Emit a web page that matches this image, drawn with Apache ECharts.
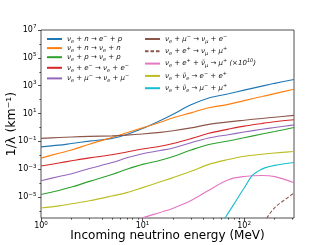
<!DOCTYPE html>
<html><head><meta charset="utf-8">
<script src="https://cdn.jsdelivr.net/npm/echarts@6/dist/echarts.min.js"></script>
<style>html,body{margin:0;padding:0;background:#fff}#c{width:327px;height:245px}</style>
</head><body><div id="c"></div>
<script>
// Energies (MeV) at which the curves were read
const energy = [1, 1.5, 2, 3, 5, 7, 10, 15, 20, 30, 45, 70, 100, 150, 200, 310];
// Values, as powers of ten (log10 of 1/lambda in km^-1)
const nuN_eP      = [-1.39,-1.27,-1.15,-0.98,-0.78,-0.50,-0.08,0.50,0.95,1.63,2.12,2.42,2.68,2.97,3.17,3.45];
const nuN_nuN     = [-2.20,-1.85,-1.62,-1.20,-0.72,-0.38,-0.03,0.38,0.70,1.05,1.42,1.66,1.93,2.22,2.43,2.75];
const nuP_nuP     = [-4.81,-4.52,-4.28,-3.87,-3.38,-3.00,-2.65,-2.35,-2.08,-1.62,-1.22,-0.97,-0.74,-0.47,-0.29,0.00];
const nuE_nuE     = [-2.77,-2.55,-2.39,-2.18,-1.96,-1.76,-1.55,-1.35,-1.15,-0.80,-0.42,-0.12,0.10,0.29,0.41,0.55];
const nuMu_nuMu   = [-3.82,-3.52,-3.32,-2.95,-2.52,-2.18,-1.88,-1.65,-1.47,-1.09,-0.75,-0.52,-0.33,-0.13,0.00,0.19];
const nuMu_numuE  = [-0.78,-0.72,-0.68,-0.64,-0.60,-0.55,-0.47,-0.35,-0.24,-0.03,0.22,0.40,0.52,0.65,0.74,0.87];
const nuNubar_ee  = [-5.78,-5.63,-5.48,-5.26,-4.92,-4.68,-4.32,-3.90,-3.60,-3.15,-2.65,-2.30,-2.07,-1.92,-1.83,-1.72];

const energyPink = [8, 10, 15, 20, 30, 45, 70, 100, 150, 200, 310];
const nuEpNubar   = [-6.9,-6.5,-6.1,-5.8,-5.25,-4.5,-3.75,-3.52,-3.45,-3.53,-3.97];

const energyCyan = [60, 65, 80, 90, 100, 120, 140, 160, 200, 310];
const nuNubar_mumu = [-7.0,-6.5,-5.47,-4.87,-4.35,-3.45,-3.10,-2.90,-2.72,-2.51];

const energyDash = [160, 168, 185, 210, 240, 265, 310];
const nuEp_numuMu = [-6.9,-6.5,-6.05,-5.62,-5.30,-5.07,-4.70];

// Tick values
const xMajorTicks = [1, 10, 100];
const xMinorTicks = [2,3,4,5,6,7,8,9,20,30,40,50,60,70,80,90,200,300];
const yMajorTicks = [1e-5, 1e-3, 1e-1, 1e1, 1e3, 1e5, 1e7];
const yMinorTicks = [1e-6, 1e-4, 1e-2, 1, 1e2, 1e4, 1e6];

// Legend labels (mini markup: _ subscript, ^ superscript)
const names = [
  'ν_e + n → e^− + p',
  'ν_e + n → ν_e + n',
  'ν_e + p → ν_e + p',
  'ν_e + e^− → ν_e + e^−',
  'ν_e + μ^− → ν_e + μ^−',
  'ν_e + μ^− → ν_μ + e^−',
  'ν_e + e^+ → ν_μ + μ^+',
  'ν_e + e^+ + ν\u0304_μ → μ^+ (×10^{10})',
  'ν_e + ν\u0304_e → e^− + e^+',
  'ν_e + ν\u0304_e → μ^− + μ^+'
];
const colors = ['#1f77b4','#ff7f0e','#2ca02c','#d62728','#9467bd','#8c564b','#8c564b','#e377c2','#bcbd22','#17becf'];

function toRich(str){
  let out = '', buf = '';
  const flush = () => { if (buf) { out += '{m|' + buf + '}'; buf = ''; } };
  for (let i = 0; i < str.length; i++) {
    const c = str[i];
    if (c === '_' || c === '^') {
      flush();
      let t;
      if (str[i+1] === '{') { const j = str.indexOf('}', i+2); t = str.slice(i+2, j); i = j; }
      else { t = str[i+1]; i++; }
      out += '{' + (c === '_' ? 's' : 'p') + '|' + t + '}';
    } else buf += c;
  }
  flush();
  return out;
}

const FF = 'DejaVu Sans';
const legendRich = {
  m: {fontSize: 7, fontStyle: 'italic', fontFamily: FF, color: '#111', lineHeight: 10, verticalAlign: 'middle'},
  s: {fontSize: 5, fontStyle: 'italic', fontFamily: FF, color: '#111', lineHeight: 10, verticalAlign: 'bottom'},
  p: {fontSize: 5, fontStyle: 'italic', fontFamily: FF, color: '#111', lineHeight: 10, verticalAlign: 'top'}
};
const tickRich = {
  b: {fontSize: 8, fontFamily: FF, color: '#000', lineHeight: 10, verticalAlign: 'bottom'},
  s: {fontSize: 5.6, fontFamily: FF, color: '#000', lineHeight: 10, verticalAlign: 'top'}
};
function powLabel(v){
  const e = Math.round(Math.log10(v));
  return '{b|10}{s|' + (e < 0 ? '−' + (-e) : e) + '}';
}

function pairs(xs, logs){ return xs.map((x, i) => [x, Math.pow(10, logs[i])]); }

const seriesData = [
  pairs(energy, nuN_eP), pairs(energy, nuN_nuN), pairs(energy, nuP_nuP), pairs(energy, nuE_nuE),
  pairs(energy, nuMu_nuMu), pairs(energy, nuMu_numuE), pairs(energyDash, nuEp_numuMu),
  pairs(energyPink, nuEpNubar), pairs(energy, nuNubar_ee), pairs(energyCyan, nuNubar_mumu)
];

const series = seriesData.map((d, i) => ({
  type: 'line', name: names[i], data: d, symbol: 'none', smooth: 0.35, clip: true,
  lineStyle: {width: 1.1, color: colors[i], type: i === 6 ? [3.5, 2] : 'solid'},
  itemStyle: {color: colors[i]}, emphasis: {disabled: true}, z: 2 + i
}));

const tickLine = {color: '#222', width: 0.8};
const legendBase = {
  orient: 'vertical', top: 34, itemWidth: 15, itemHeight: 8, padding: 0,
  selectedMode: false, formatter: n => toRich(n),
  itemStyle: {opacity: 0, borderWidth: 0},
  textStyle: {rich: legendRich, fontFamily: FF, fontSize: 7}
};

const chart = echarts.init(document.getElementById('c'), null, {renderer: 'canvas'});
chart.setOption({
  animation: false,
  backgroundColor: '#fff',
  grid: {left: 41, right: 33, top: 30, bottom: 27, show: true, borderColor: '#222', borderWidth: 0.8,
         containLabel: false, outerBoundsMode: 'none'},
  legend: [
    Object.assign({}, legendBase, {left: 46, itemGap: 0.6, data: names.slice(0, 5)}),
    Object.assign({}, legendBase, {left: 144, itemGap: 2.3, data: names.slice(5)})
  ],
  xAxis: [
    {type: 'log', logBase: 10, min: 1, max: 310, position: 'bottom',
     name: 'Incoming neutrino energy (MeV)', nameLocation: 'middle', nameGap: 12, nameMoveOverlap: false,
     nameTextStyle: {fontSize: 12, fontFamily: FF, color: '#000'},
     axisLine: {show: false}, splitLine: {show: false},
     axisTick: {show: true, length: 3, customValues: xMajorTicks, lineStyle: tickLine},
     axisLabel: {customValues: xMajorTicks, formatter: powLabel, rich: tickRich, margin: 2.4, padding: [0, 0, 2, 0]}},
    {type: 'log', logBase: 10, min: 1, max: 310, position: 'bottom',
     axisLine: {show: false}, splitLine: {show: false}, axisLabel: {show: false},
     axisTick: {show: true, length: 1.6, customValues: xMinorTicks, lineStyle: tickLine}}
  ],
  yAxis: [
    {type: 'log', logBase: 10, min: Math.pow(10, -6.5), max: 1e7, position: 'left',
     name: '1/λ (km⁻¹)', nameLocation: 'middle', nameGap: 23, nameMoveOverlap: false,
     nameTextStyle: {fontSize: 12.5, fontFamily: FF, color: '#000'},
     axisLine: {show: false}, splitLine: {show: false},
     axisTick: {show: true, length: 3, customValues: yMajorTicks, lineStyle: tickLine},
     axisLabel: {customValues: yMajorTicks, formatter: powLabel, rich: tickRich, margin: 4.5, padding: [0, 0, 2, 0]}},
    {type: 'log', logBase: 10, min: Math.pow(10, -6.5), max: 1e7, position: 'left',
     axisLine: {show: false}, splitLine: {show: false}, axisLabel: {show: false},
     axisTick: {show: true, length: 1.6, customValues: yMinorTicks, lineStyle: tickLine}}
  ],
  series: series
});
</script>
</body></html>
